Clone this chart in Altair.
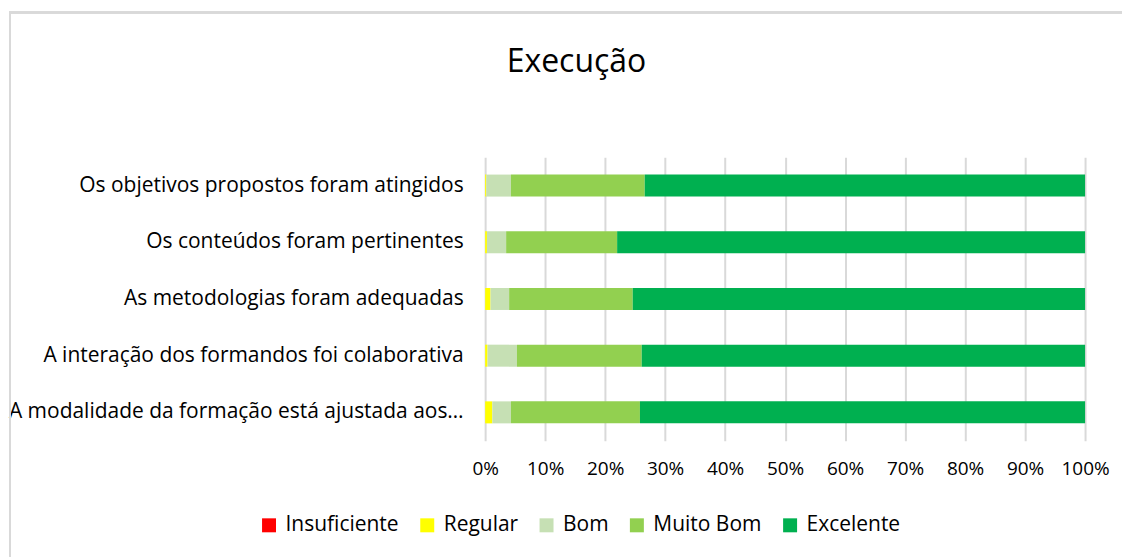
import altair as alt
import pandas as pd

categories = [
    "Os objetivos propostos foram atingidos",
    "Os conteúdos foram pertinentes",
    "As metodologias foram adequadas",
    "A interação dos formandos foi colaborativa",
    "A modalidade da formação está ajustada aos…",
]
levels = ["Insuficiente", "Regular", "Bom", "Muito Bom", "Excelente"]
colors = ["#FF0000", "#FFFF00", "#C6E0B4", "#92D050", "#00B050"]

insuficiente = [0.0, 0.0, 0.0, 0.0, 0.0]
regular = [0.2, 0.3, 0.9, 0.4, 1.2]
bom = [4.1, 3.2, 3.1, 4.9, 3.1]
muito_bom = [22.3, 18.5, 20.6, 20.8, 21.5]
excelente = [73.4, 78.0, 75.4, 73.9, 74.2]

series = [insuficiente, regular, bom, muito_bom, excelente]
rows = []
for li, (lvl, vals) in enumerate(zip(levels, series)):
    for cat, v in zip(categories, vals):
        rows.append({"item": cat, "nivel": lvl, "valor": v, "ordem": li})
df = pd.DataFrame(rows)

FONT = "Open Sans"

bars = alt.Chart(df).mark_bar(strokeWidth=0).encode(
    y=alt.Y(
        "item:N",
        sort=categories,
        title=None,
        scale=alt.Scale(paddingInner=0.612, paddingOuter=0.306),
        axis=alt.Axis(
            labelFont=FONT, labelFontSize=21, labelColor="#000000",
            labelPadding=22, ticks=False, domain=False, labelLimit=480,
            minExtent=476, maxExtent=476,
        ),
    ),
    x=alt.X(
        "valor:Q",
        stack="normalize",
        title=None,
        scale=alt.Scale(domain=[0, 1], nice=False),
        axis=alt.Axis(
            values=[i / 10 for i in range(11)], format=".0%",
            labelFont=FONT, labelFontSize=19, labelColor="#000000",
            labelPadding=19, ticks=False, domain=False, labelOverlap=False,
            labelFlush=False,
            grid=True, gridColor="#d9d9d9", gridWidth=2,
        ),
    ),
    color=alt.Color(
        "nivel:N",
        scale=alt.Scale(domain=levels, range=colors),
        legend=alt.Legend(
            title=None, orient="none", direction="horizontal",
            legendX=-227, legendY=358,
            symbolType="square", symbolSize=196, symbolStrokeWidth=0,
            labelFont=FONT, labelFontSize=21, labelColor="#000000",
            labelOffset=6, columnPadding=17.5,
        ),
    ),
    order=alt.Order("ordem:Q", sort="ascending"),
)

border_left = alt.Chart(df).mark_rule(color="#d9d9d9", strokeWidth=2).encode(
    x=alt.value(-476), y=alt.value(-145), y2=alt.value(400)
)
border_top = alt.Chart(df).mark_rule(color="#d9d9d9", strokeWidth=2).encode(
    x=alt.value(-477), x2=alt.value(638), y=alt.value(-145)
)

chart = alt.layer(bars, border_left, border_top).properties(
    width=601,
    height=284,
    padding={"left": 0, "top": 3, "right": 0, "bottom": 0},
    title=alt.TitleParams(
        text="Execução", font=FONT, fontSize=32, fontWeight="normal",
        color="#000000", anchor="middle", dx=-209, offset=-68,
    ),
).configure_view(stroke=None)

chart.save("out.html", embed_options={"renderer": "svg", "actions": False})
